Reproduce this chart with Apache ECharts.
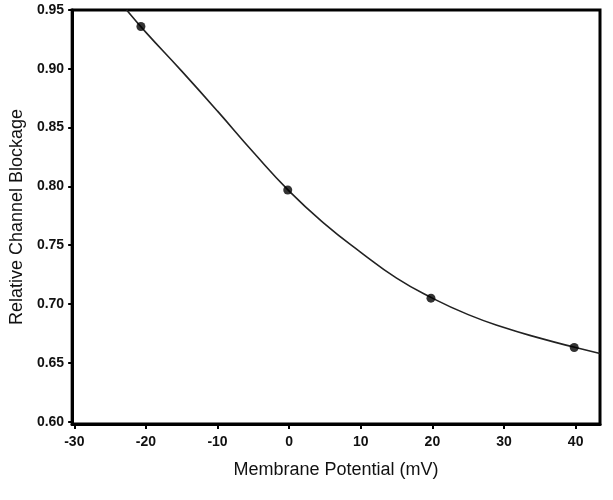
<!DOCTYPE html>
<html>
<head>
<meta charset="utf-8">
<script src="https://cdn.jsdelivr.net/npm/echarts@6/dist/echarts.min.js"></script>
<style>
html, body { margin: 0; padding: 0; background: #fff; }
#chart { width: 613px; height: 500px; }
</style>
</head>
<body>
<div id="chart"></div>
<script>
// measured points
var pointX = [-20.7, -0.2, 19.8, 39.8];
var pointY = [0.936, 0.797, 0.705, 0.663];

// fitted curve
var curveX = [-22.7, -20, -15, -10, -5, 0, 5, 10, 15, 20, 25, 30, 35, 40, 43.4];
var curveY = [0.950, 0.931, 0.898, 0.864, 0.829, 0.796, 0.768, 0.744, 0.722, 0.705, 0.691, 0.680, 0.671, 0.663, 0.658];

var xTicks = [-30, -20, -10, 0, 10, 20, 30, 40];
var yTicks = [0.60, 0.65, 0.70, 0.75, 0.80, 0.85, 0.90, 0.95];

function pairs(xs, ys) {
	var out = [];
	for (var i = 0; i < xs.length; i++) out.push([xs[i], ys[i]]);
	return out;
}

var tickFont = {
	color: "#111",
	fontFamily: "Liberation Sans, Arial, sans-serif",
	fontWeight: "bold",
	fontSize: 14
};

var option = {
	animation: false,
	backgroundColor: "#fff",
	grid: {
		left: 71,
		top: 10,
		right: 13,
		bottom: 76,
		show: true,
		borderColor: "#000",
		borderWidth: 3
	},
	xAxis: {
		type: "value",
		min: -30.3,
		max: 43.4,
		name: "Membrane Potential (mV)",
		nameLocation: "middle",
		nameGap: 37,
		nameTextStyle: {
			color: "#111",
			fontFamily: "Liberation Sans, Arial, sans-serif",
			fontSize: 18
		},
		axisLine: { show: true, onZero: false, lineStyle: { color: "#000", width: 3 } },
		axisTick: { show: true, customValues: xTicks, length: 5, lineStyle: { color: "#000", width: 2 } },
		axisLabel: Object.assign({ customValues: xTicks, margin: 11, formatter: function (v) { return String(v); } }, tickFont),
		splitLine: { show: false }
	},
	yAxis: {
		type: "value",
		min: 0.598,
		max: 0.95,
		name: "Relative Channel Blockage",
		nameLocation: "middle",
		nameGap: 44,
		nameTextStyle: {
			color: "#111",
			fontFamily: "Liberation Sans, Arial, sans-serif",
			fontSize: 18
		},
		axisLine: { show: true, onZero: false, lineStyle: { color: "#000", width: 3 } },
		axisTick: { show: true, customValues: yTicks, length: 4, lineStyle: { color: "#000", width: 2 } },
		axisLabel: Object.assign({ customValues: yTicks, margin: 8, formatter: function (v) { return v.toFixed(2); } }, tickFont),
		splitLine: { show: false }
	},
	series: [{
		type: "line",
		data: pairs(curveX, curveY),
		smooth: 0.5,
		symbol: "none",
		lineStyle: { color: "#222", width: 1.6 },
		z: 2
	}, {
		type: "scatter",
		data: pairs(pointX, pointY),
		symbol: "circle",
		symbolSize: 9,
		itemStyle: { color: "#000" },
		z: 3
	}]
};

var myChart = echarts.init(document.getElementById("chart"));
myChart.setOption(option);
</script>
</body>
</html>
